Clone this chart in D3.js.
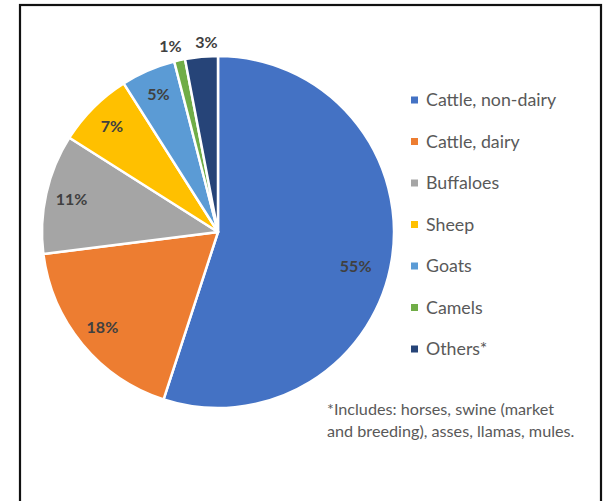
<!DOCTYPE html>
<html><head><meta charset="utf-8">
<script src="https://cdn.jsdelivr.net/npm/d3@7/dist/d3.min.js"></script>
<style>body{margin:0;background:#fff}svg{display:block}</style>
</head><body>
<svg id="chart" width="608" height="501"></svg>
<script>
const categories = ["Cattle, non-dairy","Cattle, dairy","Buffaloes","Sheep","Goats","Camels","Others*"];
const shares = [55, 18, 11, 7, 5, 1, 3];
const labels = ["55%","18%","11%","7%","5%","1%","3%"];
const colors = ["#4472C4","#ED7D31","#A5A5A5","#FFC000","#5B9BD5","#70AD47","#264478"];
const footnote = ["*Includes: horses, swine (market","and breeding), asses, llamas, mules."];

const svg = d3.select("#chart");
const font = "Lato, 'Open Sans', sans-serif";

// frame
svg.append("rect").attr("x",20).attr("y",5).attr("width",581).attr("height",520)
  .attr("fill","#fff").attr("stroke","#111").attr("stroke-width",2.2);

const cx = 218, cy = 232, R = 176;
const g = svg.append("g").attr("transform",`translate(${cx},${cy})`);
const data = categories.map((c,i)=>({cat:c, v:shares[i], lab:labels[i], col:colors[i]}));
const pie = d3.pie().value(d=>d.v).sort(null);
const arcs = pie(data);
const arc = d3.arc().innerRadius(0).outerRadius(R);
g.selectAll("path").data(arcs).join("path")
  .attr("d",arc).attr("fill",d=>d.data.col)
  .attr("stroke","#fff").attr("stroke-width",2.5).attr("stroke-linejoin","round");

// labels
const inArc = d3.arc().innerRadius(150).outerRadius(150);
const bigArc = d3.arc().innerRadius(142).outerRadius(142);
const outArc = d3.arc().innerRadius(190).outerRadius(190);
const pos = arcs.map(a => {
  const small = a.data.v < 4;
  const ang = (a.startAngle + a.endAngle)/2;
  let c;
  if (small) c = outArc.centroid(a);
  else if (a.data.v > 50) {
    // Excel best-fit: large slice label pulled slightly lower
    const t = ang + 0.09;
    c = [142*Math.sin(t), -142*Math.cos(t)];
  } else c = inArc.centroid(a);
  return {a, x:c[0], y:c[1], small};
});
// dodge outside labels horizontally
const outs = pos.filter(p=>p.small).sort((a,b)=>a.x-b.x);
for (let i=1;i<outs.length;i++){
  const gap = 36;
  if (outs[i].x - outs[i-1].x < gap){
    const m = (outs[i].x + outs[i-1].x)/2;
    outs[i-1].x = m - gap/2; outs[i].x = m + gap/2;
  }
}
g.selectAll("text.lab").data(pos).join("text").attr("class","lab")
  .attr("x",d=>d.x).attr("y",d=>d.y).attr("dy","0.35em")
  .attr("text-anchor","middle").attr("font-family",font)
  .attr("font-weight","bold").attr("font-size",16).attr("fill","#404040")
  .text(d=>d.a.data.lab);

// legend
const ly = d3.scalePoint().domain(categories).range([100,349]);
const leg = svg.append("g").selectAll("g").data(data).join("g")
  .attr("transform",d=>`translate(411,${ly(d.cat)})`);
leg.append("rect").attr("x",0).attr("y",-3.5).attr("width",7).attr("height",7).attr("fill",d=>d.col);
leg.append("text").attr("x",15).attr("dy","0.35em").attr("font-family",font)
  .attr("font-size",17.8).attr("fill","#595959").text(d=>d.cat);

// footnote
svg.append("g").selectAll("text").data(footnote).join("text")
  .attr("x",327).attr("y",(d,i)=>415+i*22).attr("font-family",font)
  .attr("font-size",16.2).attr("fill","#595959").text(d=>d);
</script>
</body></html>
